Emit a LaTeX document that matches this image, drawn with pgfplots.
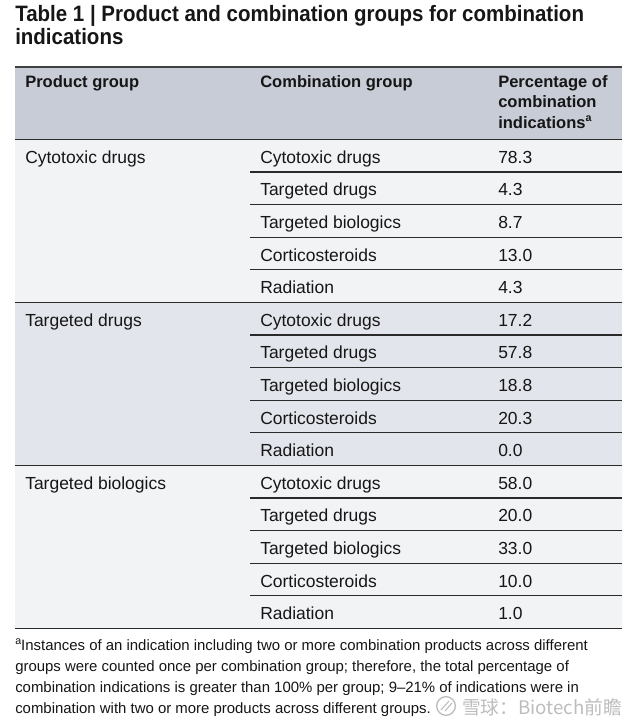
\documentclass[border=0pt]{standalone}
\usepackage{pgfplots}
\pgfplotsset{compat=1.18}
\usepackage{pgfplotstable}
\usepackage{fontspec}
\setmainfont{Liberation Sans}
\newfontfamily\titlefont[FakeStretch=0.92]{Liberation Sans}
\newfontfamily\cjk{Noto Sans CJK SC}
\definecolor{hdr}{HTML}{C8CCD6}
\definecolor{gA}{HTML}{F2F3F5}
\definecolor{gB}{HTML}{E2E5EB}
\definecolor{txt}{HTML}{161616}
\definecolor{rulec}{HTML}{2A2A2A}
\definecolor{wm}{HTML}{BDBDBD}

\pgfplotstableread[col sep=comma]{
y,prod
163.3,Cytotoxic drugs
326.3,Targeted drugs
489.3,Targeted biologics
}\prodtbl

\pgfplotstableread[col sep=comma]{
y,comb,val
163.3,Cytotoxic drugs,78.3
195.9,Targeted drugs,4.3
228.5,Targeted biologics,8.7
261.1,Corticosteroids,13.0
293.7,Radiation,4.3
326.3,Cytotoxic drugs,17.2
358.9,Targeted drugs,57.8
391.5,Targeted biologics,18.8
424.1,Corticosteroids,20.3
456.7,Radiation,0.0
489.3,Cytotoxic drugs,58.0
521.9,Targeted drugs,20.0
554.5,Targeted biologics,33.0
587.1,Corticosteroids,10.0
619.7,Radiation,1.0
}\combtbl

\newcommand{\supa}{\raisebox{0.38em}{\fontsize{8}{8}\selectfont a}}

\begin{document}
\begin{tikzpicture}
\begin{axis}[scale only axis, width=472.5pt, height=543pt,
  xmin=0, xmax=630, ymin=0, ymax=724, y dir=reverse,
  hide axis, clip=false,
  cell/.style={draw=none, mark=none, nodes near coords, point meta=explicit symbolic,
    nodes near coords style={anchor=base west, inner sep=0pt, text=txt,
      font=\fontsize{13.1}{15}\selectfont}}]
\fill[white] (axis cs:0,0) rectangle (axis cs:630,724);
\fill[hdr] (axis cs:15,67) rectangle (axis cs:622,139.3);
\fill[gA] (axis cs:15,139.3) rectangle (axis cs:622,302.3);
\fill[gB] (axis cs:15,302.3) rectangle (axis cs:622,465.3);
\fill[gA] (axis cs:15,465.3) rectangle (axis cs:622,628.3);
\pgfplotsinvokeforeach{1,2,3,4,6,7,8,9,11,12,13,14}{
  \draw[rulec, line width=0.9pt] (axis cs:250,{139.3+32.6*#1}) -- (axis cs:622,{139.3+32.6*#1});
}
\pgfplotsinvokeforeach{0,5,10,15}{
  \draw[rulec, line width=1.0pt] (axis cs:15,{139.3+32.6*#1}) -- (axis cs:622,{139.3+32.6*#1});
}
\draw[black!75, line width=1.4pt] (axis cs:15,67) -- (axis cs:622,67);

% header
\begin{scope}[every node/.style={anchor=base west, inner sep=0pt, text=txt,
    font=\bfseries\fontsize{12.4}{15}\selectfont}]
\node at (axis cs:25,88) {Product group};
\node at (axis cs:260,88) {Combination group};
\node at (axis cs:498,88) {Percentage of};
\node at (axis cs:498,108) {combination};
\node at (axis cs:498,128) {indications\supa};
\end{scope}

% title
\node[anchor=base west, inner sep=0pt, text=txt, font=\titlefont\bfseries\fontsize{16.7}{20}\selectfont]
  at (axis cs:15,21.5) {Table 1 | Product and combination groups for combination};
\node[anchor=base west, inner sep=0pt, text=txt, font=\titlefont\bfseries\fontsize{16.7}{20}\selectfont]
  at (axis cs:15,45) {indications};

% data cells
\addplot[cell] table[x expr=25, y=y, meta=prod] {\prodtbl};
\addplot[cell] table[x expr=260, y=y, meta=comb] {\combtbl};
\addplot[cell] table[x expr=498, y=y, meta=val] {\combtbl};

% footnote
\begin{scope}[every node/.style={anchor=base west, inner sep=0pt, text=txt,
    font=\fontsize{11.2}{14}\selectfont}]
\node at (axis cs:15,650) {\supa Instances of an indication including two or more combination products across different};
\node at (axis cs:15,671) {groups were counted once per combination group; therefore, the total percentage of};
\node at (axis cs:15,692) {combination indications is greater than 100\% per group; 9--21\% of indications were in};
\node at (axis cs:15,713) {combination with two or more products across different groups.};
\end{scope}
% watermark
\draw[wm, line width=1pt] (axis cs:446,706) circle[radius=7pt];
\draw[wm, line width=0.8pt] (axis cs:441,710) -- (axis cs:449,701);
\draw[wm, line width=0.8pt] (axis cs:445,711) -- (axis cs:452,703);
\node[anchor=base west, inner sep=0pt, text=wm, font=\cjk\fontsize{14}{16}\selectfont]
  at (axis cs:462,714) {雪球：Biotech前瞻};
\end{axis}
\end{tikzpicture}
\end{document}
